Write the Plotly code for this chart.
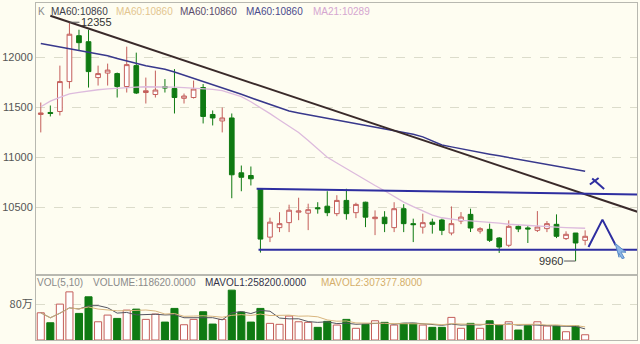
import plotly.graph_objects as go
import pandas as pd

# ---------------- data ----------------
OPEN = [11430, 11450, 11460, 11760, 12220, 12160, 11800, 11845, 11840, 11710,
        11920, 11650, 11630, 11710, 11690, 11592, 11600, 11700, 11430, 11365,
        11395, 10845, 10818, 10685, 10200, 10295, 10345, 10450, 10440, 10495,
        10510, 10435, 10568, 10445, 10550, 10385, 10400, 10295, 10485, 10335,
        10300, 10350, 10372, 10241, 10361, 10428, 10261, 10278, 10191, 10118,
        10308, 10292, 10268, 10285, 10328, 10185, 10241, 10168]
HIGH = [11550, 11520, 11920, 12355, 12280, 12280, 11920, 11940, 11850, 12110,
        12050, 11800, 11870, 11785, 11885, 11640, 11770, 11735, 11470, 11500,
        11440, 10918, 10908, 10690, 10395, 10450, 10525, 10595, 10535, 10550,
        10660, 10620, 10685, 10545, 10555, 10468, 10460, 10550, 10530, 10385,
        10435, 10385, 10385, 10508, 10451, 10485, 10300, 10335, 10200, 10368,
        10318, 10310, 10461, 10361, 10428, 10258, 10241, 10268]
LOW = [11250, 11410, 11420, 11690, 12070, 11700, 11720, 11720, 11600, 11650,
       11635, 11540, 11600, 11650, 11440, 11540, 11590, 11340, 11320, 11250,
       10590, 10660, 10718, 10045, 10150, 10250, 10250, 10370, 10270, 10435,
       10410, 10410, 10375, 10390, 10300, 10220, 10250, 10250, 10250, 10150,
       10235, 10235, 10220, 10218, 10330, 10251, 10235, 10151, 10041, 10100,
       10250, 10141, 10251, 10250, 10190, 10171, 9960, 10118]
CLOSE = [11445, 11440, 11760, 12235, 12150, 11860, 11840, 11875, 11710, 11930,
         11645, 11668, 11675, 11695, 11600, 11615, 11685, 11410, 11395, 11395,
         10825, 10800, 10785, 10180, 10350, 10335, 10470, 10462, 10475, 10485,
         10445, 10568, 10435, 10528, 10400, 10400, 10335, 10485, 10335, 10325,
         10345, 10328, 10268, 10335, 10401, 10291, 10285, 10168, 10101, 10308,
         10281, 10282, 10301, 10335, 10208, 10228, 10141, 10208]
VOLUME = [615000, 390000, 811000, 1088000, 601000, 976000, 412000, 563000, 488000, 676000,
          698000, 466000, 586000, 405000, 714000, 345000, 466000, 638000, 360000, 466000,
          1127000, 631000, 405000, 714000, 376000, 354000, 541000, 412000, 399000, 286000,
          421000, 338000, 466000, 264000, 354000, 435000, 399000, 338000, 376000, 376000,
          338000, 286000, 286000, 511000, 264000, 376000, 264000, 435000, 338000, 412000,
          225000, 322000, 412000, 315000, 315000, 187000, 315000, 118620]
MA21 = [11508, 11563, 11602, 11637, 11651, 11666, 11678, 11686, 11694, 11700,
        11705, 11708, 11708, 11708, 11704, 11700, 11695, 11688, 11681, 11670,
        11639, 11608, 11558, 11502, 11438, 11375, 11313, 11250, 11170, 11085,
        11001, 10943, 10885, 10827, 10771, 10718, 10665, 10606, 10551, 10505,
        10462, 10421, 10394, 10380, 10367, 10362, 10356, 10351, 10340, 10329,
        10322, 10316, 10309, 10305, 10300, 10296, 10292, 10289]
MA60 = [12141, 12124, 12108, 12091, 12074, 12057, 12041, 12018, 11992, 11967,
        11941, 11919, 11901, 11884, 11856, 11824, 11792, 11760, 11732, 11702,
        11667, 11632, 11597, 11563, 11530, 11496, 11465, 11445, 11427, 11409,
        11392, 11374, 11357, 11340, 11324, 11307, 11289, 11270, 11251, 11231,
        11205, 11162, 11124, 11105, 11085, 11066, 11049, 11032, 11015, 10997,
        10980, 10963, 10945, 10928, 10910, 10893, 10875, 10860]

# hand-drawn analysis lines (bar index, price)
TREND_X, TREND_Y = [1.0, 62.6], [12420, 10450]
CH_TOP_X, CH_TOP_Y = [22.6, 62.6], [10685, 10628]
CH_BOT_X, CH_BOT_Y = [22.8, 62.6], [10073, 10073]
TRI_X, TRI_Y = [57.35, 58.81, 60.2], [10101, 10375, 10118]
CROSS_A_X, CROSS_A_Y = [57.50, 58.41], [10728, 10793]
CROSS_B_X, CROSS_B_Y = [57.74, 58.99], [10788, 10683]
CURSOR_X, CURSOR_Y = [60.14, 61.28, 60.75, 61.1, 60.85, 60.5, 60.55, 60.14], \
                     [10138, 10048, 10050, 9990, 9985, 10040, 9998, 10138]

PRICE_TICKS = [10500, 11000, 11500, 12000]
PRICE_TICK_TEXT = ["10500", "11000", "11500", "12000"]
VOL_TICKS = [800000]
VOL_TICK_TEXT = ["80万"]

HIGH_LABEL_IDX, HIGH_LABEL = 3, 12355
LOW_LABEL_IDX, LOW_LABEL = 56, 9960

# ---------------- figure ----------------
BG = "#FEFDF1"
UP = "#C45E5A"
DN = "#0F7A12"
N = len(CLOSE)
idx = list(range(N))

vol_s = pd.Series(VOLUME, dtype=float)
mavol1 = vol_s.rolling(5, min_periods=1).mean()
mavol2 = vol_s.rolling(10, min_periods=1).mean()
is_up = [c >= o for o, c in zip(OPEN, CLOSE)]

fig = go.Figure()

fig.add_trace(go.Scatter(x=idx, y=MA21, mode="lines", line=dict(color="#DDBBDD", width=1.3),
                         xaxis="x", yaxis="y", hoverinfo="skip"))
fig.add_trace(go.Scatter(x=idx, y=MA60, mode="lines", line=dict(color="#38388C", width=1.5),
                         xaxis="x", yaxis="y", hoverinfo="skip"))

fig.add_trace(go.Candlestick(
    x=idx, open=OPEN, high=HIGH, low=LOW, close=CLOSE,
    increasing=dict(line=dict(color=UP, width=1), fillcolor="#FFFFFF"),
    decreasing=dict(line=dict(color=DN, width=1), fillcolor=DN),
    whiskerwidth=0, xaxis="x", yaxis="y"))

fig.add_trace(go.Scatter(x=TREND_X, y=TREND_Y, mode="lines", line=dict(color="#3A2A2A", width=2),
                         xaxis="x", yaxis="y"))
for xs, ys in [(CH_TOP_X, CH_TOP_Y), (CH_BOT_X, CH_BOT_Y), (TRI_X, TRI_Y),
               (CROSS_A_X, CROSS_A_Y), (CROSS_B_X, CROSS_B_Y)]:
    fig.add_trace(go.Scatter(x=xs, y=ys, mode="lines", line=dict(color="#2E2EA0", width=2),
                             xaxis="x", yaxis="y"))
fig.add_trace(go.Scatter(x=CURSOR_X, y=CURSOR_Y, mode="lines", fill="toself",
                         fillcolor="#8DB6E6", line=dict(color="#5A8CC8", width=1),
                         xaxis="x", yaxis="y"))

# volume panel
fig.add_trace(go.Bar(
    x=idx, y=VOLUME, width=0.74,
    marker=dict(color=["#FFFFFF" if u else DN for u in is_up],
                line=dict(color=[UP if u else DN for u in is_up], width=1)),
    xaxis="x2", yaxis="y2"))
fig.add_trace(go.Scatter(x=idx, y=mavol1, mode="lines", line=dict(color="#555560", width=1),
                         xaxis="x2", yaxis="y2"))
fig.add_trace(go.Scatter(x=idx, y=mavol2, mode="lines", line=dict(color="#D8B57E", width=1),
                         xaxis="x2", yaxis="y2"))

# ---------------- layout ----------------
ML, MR, MT, MB = 35, 2, 2, 4
W, H = 640, 344
PW, PH = W - ML - MR, H - MT - MB
split = (H - MB - 275) / PH
XR = [-0.5, 62.43]


def px(xp):
    return (xp - ML) / PW


def py(yp):
    return (H - MB - yp) / PH


axis_common = dict(showline=True, linecolor="#B8B8B0", linewidth=1, mirror=True,
                   zeroline=False)
fig.update_layout(
    width=W, height=H, margin=dict(l=ML, r=MR, t=MT, b=MB),
    paper_bgcolor=BG, plot_bgcolor=BG, showlegend=False,
    xaxis=dict(domain=[0, 1], range=XR, anchor="y", showticklabels=False, showgrid=False,
               rangeslider=dict(visible=False), **axis_common),
    yaxis=dict(domain=[split, 1], range=[9818, 12548], tickvals=PRICE_TICKS,
               ticktext=PRICE_TICK_TEXT,
               ticks="", showgrid=True, gridcolor="#DCDCCB", griddash="dash", gridwidth=1,
               tickfont=dict(family="Liberation Sans", size=11, color="#555555"),
               **axis_common),
    xaxis2=dict(domain=[0, 1], range=XR, anchor="y2", showticklabels=False, showgrid=False,
                **axis_common),
    yaxis2=dict(domain=[0, split], range=[0, 1465000], tickvals=VOL_TICKS,
                ticktext=VOL_TICK_TEXT, ticks="", showgrid=True, gridcolor="#DCDCCB",
                griddash="dash", gridwidth=1,
                tickfont=dict(family="Noto Sans CJK SC", size=11, color="#555555"),
                **axis_common),
    bargap=0.25,
)

ann = []
header = [(36, "K", "#8A8A8A"), (49.3, "MA60:10860", "#3C3C48"),
          (114, "MA60:10860", "#E3C58F"), (178.3, "MA60:10860", "#5B4B6B"),
          (245, "MA60:10860", "#4A4A8C"), (311.7, "MA21:10289", "#D5A6D0")]
for xp, t, c in header:
    ann.append(dict(xref="paper", yref="paper", x=px(xp), y=py(10.7), text=t,
                    showarrow=False, xanchor="left", yanchor="middle", borderpad=0,
                    font=dict(family="Liberation Sans", size=10, color=c)))
vheader = [(35, "VOL(5,10)", "#8A8A8A"), (90.7, "VOLUME:118620.0000", "#8A8A8A"),
           (203.3, "MAVOL1:258200.0000", "#33334A"), (320, "MAVOL2:307377.8000", "#D4AE6A")]
for xp, t, c in vheader:
    ann.append(dict(xref="paper", yref="paper", x=px(xp), y=py(282.7), text=t,
                    showarrow=False, xanchor="left", yanchor="middle", borderpad=0,
                    font=dict(family="Liberation Sans", size=10, color=c)))

ann.append(dict(x=HIGH_LABEL_IDX, y=HIGH_LABEL, xref="x", yref="y", text=str(HIGH_LABEL),
                showarrow=True, arrowhead=0, arrowwidth=1, arrowcolor="#555555",
                ax=27, ay=0, font=dict(family="Liberation Sans", size=11, color="#333333")))
ann.append(dict(x=LOW_LABEL_IDX, y=LOW_LABEL, xref="x", yref="y", text=str(LOW_LABEL),
                showarrow=True, arrowhead=0, arrowwidth=1, arrowcolor="#555555",
                ax=-25, ay=0, font=dict(family="Liberation Sans", size=11, color="#333333")))
fig.update_layout(annotations=ann)

fig.write_html("out.html")
